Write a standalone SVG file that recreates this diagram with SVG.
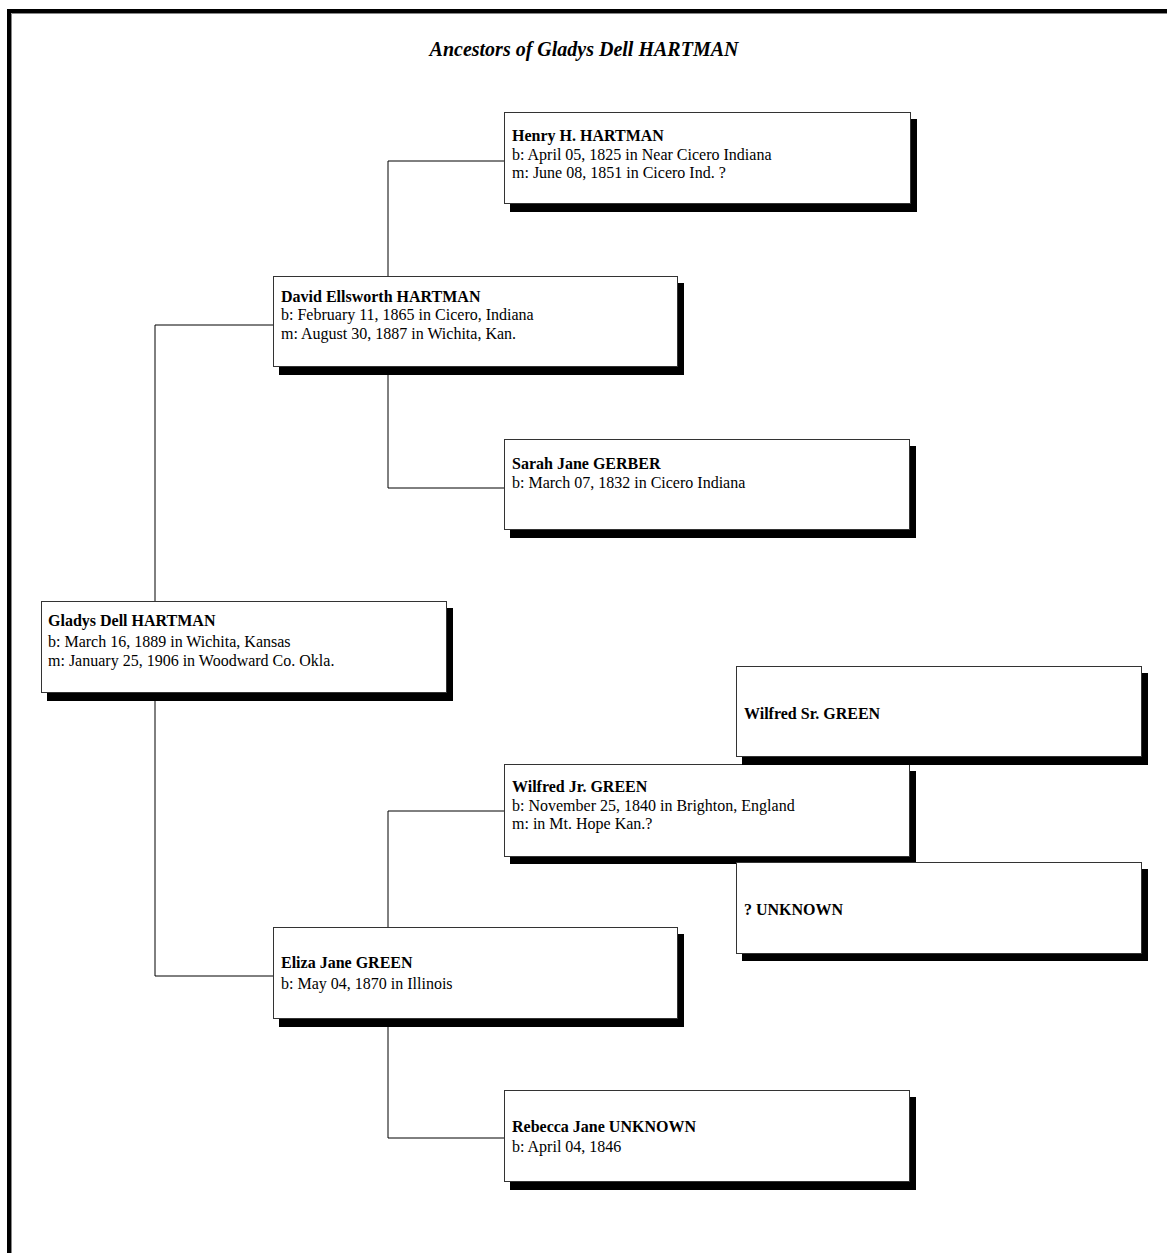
<svg xmlns="http://www.w3.org/2000/svg" width="1167" height="1253" viewBox="0 0 1167 1253">
<style>
.box{fill:#fff;stroke:#333;stroke-width:1}
.sh{fill:#000}
.nm{font-family:"Liberation Serif","Times New Roman",serif;font-size:16px;font-weight:bold;fill:#000}
.tx{font-family:"Liberation Serif","Times New Roman",serif;font-size:16px;fill:#000}
.ttl{font-family:"Liberation Serif","Times New Roman",serif;font-size:20px;font-weight:bold;font-style:italic;fill:#000}
.ln{fill:none;stroke:#000;stroke-width:1}
</style>
<rect x="0" y="0" width="1167" height="1253" fill="#fff"/>
<path d="M9,1260 V11 H1175" fill="none" stroke="#000" stroke-width="4"/>
<path d="M11.5,1260 V13.5 H1175" fill="none" stroke="#888" stroke-width="1"/>
<text class="ttl" x="584" y="56" text-anchor="middle">Ancestors of Gladys Dell HARTMAN</text>
<g id="connectors">
<path class="ln" d="M504,161 H388 V276"/>
<path class="ln" d="M388,367 V488 H504"/>
<path class="ln" d="M273,325 H155 V601"/>
<path class="ln" d="M155,693 V976 H273"/>
<path class="ln" d="M504,811 H388 V927"/>
<path class="ln" d="M388,1019 V1138 H504"/>
</g>
<g id="henry">
<rect class="sh" x="510" y="119" width="407" height="93"/>
<rect class="box" x="504.5" y="112.5" width="406" height="91"/>
<text class="nm" x="512" y="141">Henry H. HARTMAN</text>
<text class="tx" x="512" y="160">b: April 05, 1825 in Near Cicero Indiana</text>
<text class="tx" x="512" y="178">m: June 08, 1851 in Cicero Ind. ?</text>
</g>
<g id="david">
<rect class="sh" x="279" y="283" width="405" height="92"/>
<rect class="box" x="273.5" y="276.5" width="404" height="90"/>
<text class="nm" x="281" y="302">David Ellsworth HARTMAN</text>
<text class="tx" x="281" y="320">b: February 11, 1865 in Cicero, Indiana</text>
<text class="tx" x="281" y="339">m: August 30, 1887 in Wichita, Kan.</text>
</g>
<g id="sarah">
<rect class="sh" x="510" y="446" width="406" height="92"/>
<rect class="box" x="504.5" y="439.5" width="405" height="90"/>
<text class="nm" x="512" y="469">Sarah Jane GERBER</text>
<text class="tx" x="512" y="488">b: March 07, 1832 in Cicero Indiana</text>
</g>
<g id="gladys">
<rect class="sh" x="47" y="608" width="406" height="93"/>
<rect class="box" x="41.5" y="601.5" width="405" height="91"/>
<text class="nm" x="48" y="626">Gladys Dell HARTMAN</text>
<text class="tx" x="48" y="647">b: March 16, 1889 in Wichita, Kansas</text>
<text class="tx" x="48" y="666">m: January 25, 1906 in Woodward Co. Okla.</text>
</g>
<g id="wilfred-jr">
<rect class="sh" x="510" y="771" width="406" height="93"/>
<rect class="box" x="504.5" y="764.5" width="405" height="92"/>
<text class="nm" x="512" y="792">Wilfred Jr. GREEN</text>
<text class="tx" x="512" y="811">b: November 25, 1840 in Brighton, England</text>
<text class="tx" x="512" y="829">m: in Mt. Hope Kan.?</text>
</g>
<g id="wilfred-sr">
<rect class="sh" x="742" y="673" width="406" height="92"/>
<rect class="box" x="736.5" y="666.5" width="405" height="90"/>
<text class="nm" x="744" y="719">Wilfred Sr. GREEN</text>
</g>
<g id="unknown">
<rect class="sh" x="742" y="869" width="406" height="92"/>
<rect class="box" x="736.5" y="862.5" width="405" height="91"/>
<text class="nm" x="744" y="915">? UNKNOWN</text>
</g>
<g id="eliza">
<rect class="sh" x="279" y="934" width="405" height="93"/>
<rect class="box" x="273.5" y="927.5" width="404" height="91"/>
<text class="nm" x="281" y="968">Eliza Jane GREEN</text>
<text class="tx" x="281" y="989">b: May 04, 1870 in Illinois</text>
</g>
<g id="rebecca">
<rect class="sh" x="510" y="1097" width="406" height="93"/>
<rect class="box" x="504.5" y="1090.5" width="405" height="91"/>
<text class="nm" x="512" y="1132">Rebecca Jane UNKNOWN</text>
<text class="tx" x="512" y="1152">b: April 04, 1846</text>
</g>
</svg>
